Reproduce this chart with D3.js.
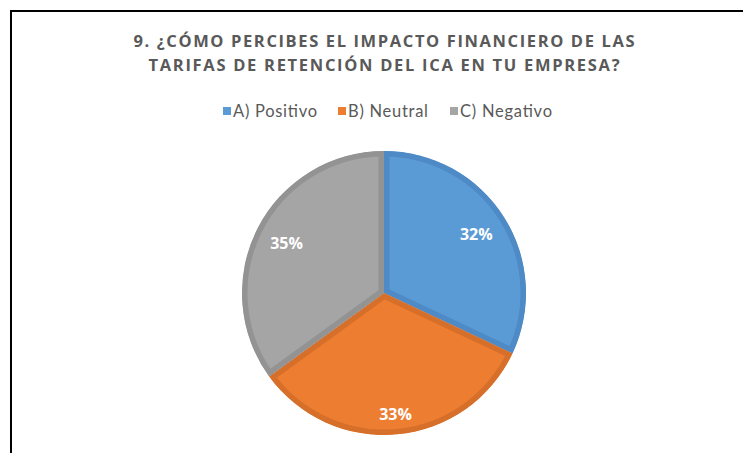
<!DOCTYPE html>
<html>
<head>
<meta charset="utf-8">
<script src="https://cdn.jsdelivr.net/npm/d3@7"></script>
<style>
  body { margin: 0; background: #fff; }
  svg { display: block; }
</style>
</head>
<body>
<div id="chart"></div>
<script>
// chart data
var categories = ["A) Positivo", "B) Neutral", "C) Negativo"];
var values = [32, 33, 35];
var titleLines = ["9. ¿CÓMO PERCIBES EL IMPACTO FINANCIERO DE LAS", "TARIFAS DE RETENCIÓN DEL ICA EN TU EMPRESA?"];

var fills = ["#5b9bd5", "#ed7d31", "#a5a5a5"];
var borders = ["#4d8ac6", "#d66f2a", "#939393"];

var width = 743, height = 453;

var svg = d3.select("#chart")
    .append("svg")
    .attr("width", width)
    .attr("height", height);

svg.append("rect")
    .attr("width", width)
    .attr("height", height)
    .attr("fill", "#fff");

// chart frame (only the top and left edges are in the shot)
svg.append("path")
    .attr("d", "M11," + height + "V11H" + width)
    .attr("fill", "none")
    .attr("stroke", "#000")
    .attr("stroke-width", 2);

// title
var titleWidths = [501, 471];
svg.selectAll("text.title")
    .data(titleLines)
    .enter()
    .append("text")
    .attr("class", "title")
    .attr("x", 384)
    .attr("y", function(d, i) { return 47 + i * 24; })
    .attr("text-anchor", "middle")
    .attr("font-family", "'Open Sans', sans-serif")
    .attr("font-weight", "bold")
    .attr("font-size", 16.5)
    .attr("fill", "#595959")
    .attr("textLength", function(d, i) { return titleWidths[i]; })
    .attr("lengthAdjust", "spacing")
    .text(function(d) { return d; });

// legend
var legendX = [223, 338, 450];
var legendW = [84, 80, 92];
var legend = svg.selectAll("g.legend")
    .data(categories)
    .enter()
    .append("g")
    .attr("class", "legend")
    .attr("transform", function(d, i) { return "translate(" + legendX[i] + ",107)"; });

legend.append("rect")
    .attr("width", 8)
    .attr("height", 8)
    .attr("fill", function(d, i) { return fills[i]; });

legend.append("text")
    .attr("x", 10)
    .attr("y", 9.5)
    .attr("font-family", "Lato, sans-serif")
    .attr("font-size", 16.5)
    .attr("fill", "#595959")
    .attr("textLength", function(d, i) { return legendW[i]; })
    .attr("lengthAdjust", "spacing")
    .text(function(d) { return d; });

// pie
var cx = 384, cy = 293, radius = 142;
var total = d3.sum(values);

var pie = d3.pie().sort(null).value(function(d) { return d; });
var arc = d3.arc().innerRadius(0).outerRadius(radius);
var arcs = pie(values);

var defs = svg.append("defs");
defs.selectAll("clipPath")
    .data(arcs)
    .enter()
    .append("clipPath")
    .attr("id", function(d, i) { return "slice" + i; })
    .append("path")
    .attr("d", arc);

var g = svg.append("g")
    .attr("transform", "translate(" + cx + "," + cy + ")");

g.selectAll("path.slice")
    .data(arcs)
    .enter()
    .append("path")
    .attr("class", "slice")
    .attr("d", arc)
    .attr("fill", function(d, i) { return fills[i]; })
    .attr("stroke", function(d, i) { return borders[i]; })
    .attr("stroke-width", 11)
    .attr("stroke-linejoin", "miter")
    .attr("clip-path", function(d, i) { return "url(#slice" + i + ")"; });

// data labels, pushed out a little near the bottom like Excel's best fit
g.selectAll("text.label")
    .data(arcs)
    .enter()
    .append("text")
    .attr("class", "label")
    .attr("transform", function(d) {
        var a = (d.startAngle + d.endAngle) / 2;
        var r = radius * (0.77 + 0.09 * Math.max(0, -Math.cos(a)));
        return "translate(" + (r * Math.sin(a)) + "," + (-r * Math.cos(a)) + ")";
    })
    .attr("text-anchor", "middle")
    .attr("dy", "0.36em")
    .attr("font-family", "'Open Sans', sans-serif")
    .attr("font-weight", "bold")
    .attr("font-size", 16)
    .attr("fill", "#fff")
    .text(function(d) { return Math.round(d.value / total * 100) + "%"; });
</script>
</body>
</html>
